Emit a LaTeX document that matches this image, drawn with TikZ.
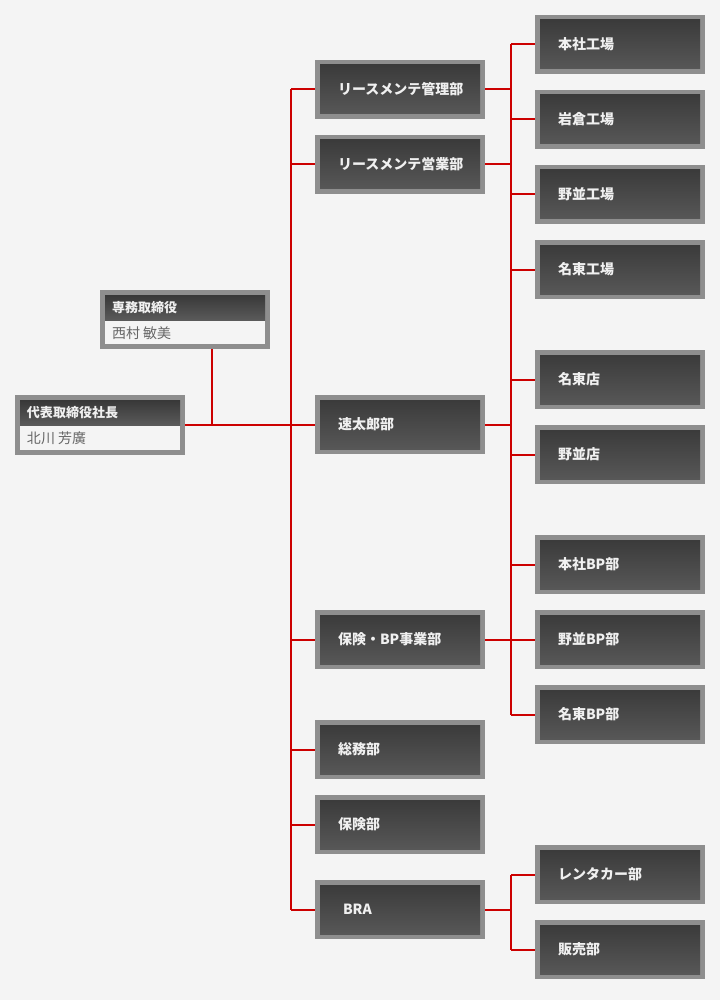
\documentclass[tikz,border=0pt]{standalone}
\usepackage{fontspec}
\setmainfont{Noto Sans CJK JP}
\usetikzlibrary{calc}
\definecolor{bgc}{HTML}{F4F4F4}
\definecolor{brd}{HTML}{8E8E8E}
\definecolor{gtop}{HTML}{383838}
\definecolor{gbot}{HTML}{5A5A5A}
\definecolor{lnred}{HTML}{CC0000}
\definecolor{txtw}{HTML}{F0F0F0}
\definecolor{namec}{HTML}{666666}
\tikzset{
  deptbox/.style={rectangle, fill=brd, inner xsep=23pt, inner ysep=0pt,
    text width=124pt, minimum height=59pt, align=left,
    font=\fontsize{14pt}{16pt}\selectfont\bfseries, text=txtw,
    path picture={\shade[top color=gtop,bottom color=gbot]
      ([xshift=5pt,yshift=-5pt]path picture bounding box.north west) rectangle
      ([xshift=-5pt,yshift=5pt]path picture bounding box.south east);}},
  personbox/.style={rectangle, fill=brd, inner sep=0pt, minimum width=170pt,
    minimum height=#1,
    path picture={
      \fill[bgc] ([xshift=5pt,yshift=-30pt]path picture bounding box.north west) rectangle
      ([xshift=-5pt,yshift=5pt]path picture bounding box.south east);
      \shade[top color=gtop,bottom color=gbot]
      ([xshift=5pt,yshift=-5pt]path picture bounding box.north west) rectangle
      ([xshift=-5pt,yshift=-30pt]path picture bounding box.north east);}},
  ptitle/.style={anchor=west, inner sep=0pt, text=txtw,
    font=\fontsize{13pt}{15pt}\selectfont\bfseries},
  pname/.style={anchor=west, inner sep=0pt, text=namec,
    font=\fontsize{14pt}{16pt}\selectfont},
  conn/.style={draw=lnred, line width=2pt}
}
\begin{document}
\begin{tikzpicture}[x=1pt,y=-1pt]
\fill[bgc] (0,0) rectangle (720,1000);
\useasboundingbox (0,0) rectangle (720,1000);

% trunk coordinates
\coordinate (lt) at (291,0);
\coordinate (rt) at (511,0);
\coordinate (sv) at (212,0);

% person boxes
\node[personbox=59pt] (s) at (185,319.5) {};
\node[ptitle] (st) at ($(s.north west)+(12,18)$) {専務取締役};
\node[pname] (sn) at ($(s.north west)+(12,43)$) {西村 敏美};
\node[personbox=60pt] (p) at (100,425) {};
\node[ptitle] (pt) at ($(p.north west)+(12,18)$) {代表取締役社長};
\node[pname] (pn) at ($(p.north west)+(12,43)$) {北川 芳廣};

% middle column
\node[deptbox] (m1) at (400,89.5) {リースメンテ管理部};
\node[deptbox] (m2) at (400,164.5) {リースメンテ営業部};
\node[deptbox] (m3) at (400,424.5) {速太郎部};
\node[deptbox] (m4) at (400,639.5) {保険・BP事業部};
\node[deptbox] (m5) at (400,749.5) {総務部};
\node[deptbox] (m6) at (400,824.5) {保険部};
\node[deptbox] (m7) at (400,909.5) {\hspace*{5pt}BRA};

% right column
\node[deptbox] (r1) at (620,44.5) {本社工場};
\node[deptbox] (r2) at (620,119.5) {岩倉工場};
\node[deptbox] (r3) at (620,194.5) {野並工場};
\node[deptbox] (r4) at (620,269.5) {名東工場};
\node[deptbox] (r5) at (620,379.5) {名東店};
\node[deptbox] (r6) at (620,454.5) {野並店};
\node[deptbox] (r7) at (620,564.5) {本社BP部};
\node[deptbox] (r8) at (620,639.5) {野並BP部};
\node[deptbox] (r9) at (620,714.5) {名東BP部};
\node[deptbox] (r10) at (620,874.5) {レンタカー部};
\node[deptbox] (r11) at (620,949.5) {販売部};

% connectors: left side
\draw[conn] (s.south -| sv) -- (p.east -| sv);
\draw[conn] (p.east) -- (p.east -| lt);
\draw[conn] (m1.west -| lt) -- (m7.west -| lt);
\foreach \m in {m1,m2,m3,m4,m5,m6,m7}
  \draw[conn] (\m.west) -- (\m.west -| lt);

% connectors: right side
\draw[conn] (r1.west -| rt) -- (r9.west -| rt);
\foreach \m in {m1,m2,m3,m4}
  \draw[conn] (\m.east) -- (\m.east -| rt);
\foreach \r in {r1,r2,r3,r4,r5,r6,r7,r8,r9}
  \draw[conn] (\r.west) -- (\r.west -| rt);

% BRA branch
\draw[conn] (m7.east) -- (m7.east -| rt);
\draw[conn] (r10.west -| rt) -- (r11.west -| rt);
\draw[conn] (r10.west) -- (r10.west -| rt);
\draw[conn] (r11.west) -- (r11.west -| rt);
\end{tikzpicture}
\end{document}
